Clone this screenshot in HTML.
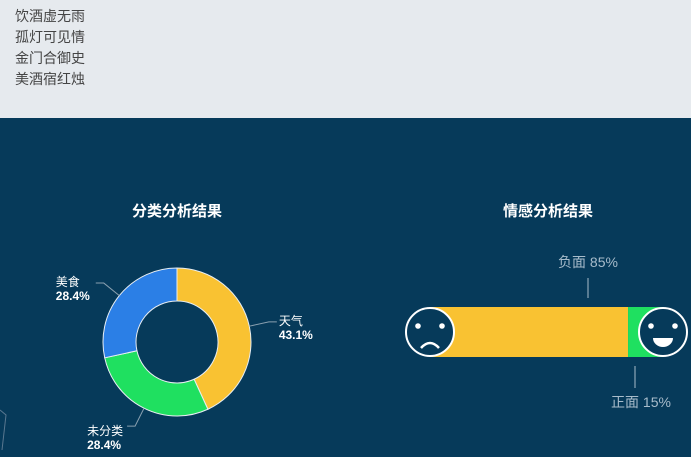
<!DOCTYPE html>
<html><head><meta charset="utf-8"><style>
html,body{margin:0;padding:0;width:691px;height:457px;overflow:hidden;background:#063a5a}
#hdr{position:absolute;left:0;top:0;width:691px;height:118px;background:#e6eaee}
#hdr div{position:absolute;left:15px;font:14px "Liberation Sans","Noto Sans CJK SC",sans-serif;color:#444;line-height:14px}
svg{position:absolute;left:0;top:0}
text{font-family:"Liberation Sans","Noto Sans CJK SC",sans-serif}
</style></head><body>
<div id="hdr">
<div style="top:9px">饮酒虚无雨</div>
<div style="top:30px">孤灯可见情</div>
<div style="top:51px">金门合御史</div>
<div style="top:72px">美酒宿红烛</div>
</div>
<svg id="s" width="691" height="457">
<polyline points="0,410 6,415 2,450" fill="none" stroke="#5a7890" stroke-width="1"/>
<text x="177" y="216" fill="#fff" font-size="15" font-weight="bold" text-anchor="middle">分类分析结果</text>
<text x="548" y="216" fill="#fff" font-size="15" font-weight="bold" text-anchor="middle">情感分析结果</text>
<g id="pie"></g>
<g id="bar"></g>
</svg>
<script>
const categories=["天气","未分类","美食"];
const shares=[43.1,28.4,28.4];
const pieColors=["#f9c232","#1fe060","#2b7fe6"];
const sentiments=["负面","正面"];
const sentimentValues=[85,15];
const NS="http://www.w3.org/2000/svg";
function mk(t,a,p){const e=document.createElementNS(NS,t);for(const k in a)e.setAttribute(k,a[k]);p.appendChild(e);return e;}
const pie=document.getElementById('pie');
const cx=177,cy=342,R=74,r=41;
const total=shares.reduce((a,b)=>a+b,0);
let acc=0;
function pt(a,rad){return [cx+rad*Math.sin(a),cy-rad*Math.cos(a)];}
shares.forEach((v,i)=>{
 const a0=acc/total*2*Math.PI;acc+=v;const a1=acc/total*2*Math.PI;
 const lg=(a1-a0)>Math.PI?1:0;
 const [x0,y0]=pt(a0,R),[x1,y1]=pt(a1,R),[x2,y2]=pt(a1,r),[x3,y3]=pt(a0,r);
 const p=mk('path',{d:`M${x0},${y0}A${R},${R} 0 ${lg} 1 ${x1},${y1}L${x2},${y2}A${r},${r} 0 ${lg} 0 ${x3},${y3}Z`,fill:pieColors[i],stroke:'#e8eef3','stroke-width':1},pie);
 
 
 const am=(a0+a1)/2;const [lx,ly]=pt(am,R);const [ex,ey]=pt(am,R+20);
 const right=Math.sin(am)>0;const tx=ex+(right?8:-8);
 const ln=mk('polyline',{points:`${lx},${ly} ${ex},${ey} ${tx},${ey}`,fill:'none',stroke:'#8aa0b0','stroke-width':1},pie);
 
 
 const txtX=right?tx+2:tx-40;
 const dy=Math.cos(am)<0?9:3;
 const t=mk('text',{x:txtX,y:ey+dy,fill:'#fff','font-size':12},pie);t.textContent=categories[i];
 
 
 const t2=mk('text',{x:txtX,y:ey+dy+14,fill:'#fff','font-size':12,'font-weight':'bold'},pie);t2.textContent=v.toFixed(1)+'%';
 
 
});
const bar=document.getElementById('bar');
const bx0=430,bx1=663,by=307,bh=50;
const st=sentimentValues[0]+sentimentValues[1];
const xs=v=>bx0+(bx1-bx0)*v/st;
const split=xs(sentimentValues[0]);
const nb=mk('rect',{x:bx0,y:by,width:split-bx0,height:bh,fill:'#f9c232'},bar);


const pb=mk('rect',{x:split,y:by,width:bx1-split,height:bh,fill:'#1fe060'},bar);


function face(x,happy,name){
 const g=mk('g',{},bar);
 
 
 mk('circle',{cx:x,cy:332,r:24,fill:'#063a5a',stroke:'#fff','stroke-width':2},g);
 mk('circle',{cx:x-12,cy:326,r:2.8,fill:'#fff'},g);
 mk('circle',{cx:x+12,cy:326,r:2.8,fill:'#fff'},g);
 if(happy) mk('path',{d:`M${x-10},338 L${x+10},338 A10,9 0 0 1 ${x-10},338Z`,fill:'#fff'},g);
 else mk('path',{d:`M${x-9},348 Q${x},338 ${x+9},348`,fill:'none',stroke:'#fff','stroke-width':2.5},g);
}
face(430,false,'sad-face-icon');face(663,true,'happy-face-icon');
const nx=588,px=635;
let l=mk('line',{x1:nx,y1:278,x2:nx,y2:298,stroke:'#a8bccb'},bar);


let t=mk('text',{x:nx,y:267,fill:'#a8bccb','font-size':14,'text-anchor':'middle'},bar);t.textContent=sentiments[0]+' '+sentimentValues[0]+'%';


l=mk('line',{x1:px,y1:366,x2:px,y2:388,stroke:'#a8bccb'},bar);


t=mk('text',{x:641,y:407,fill:'#a8bccb','font-size':14,'text-anchor':'middle'},bar);t.textContent=sentiments[1]+' '+sentimentValues[1]+'%';


</script>
</body></html>
